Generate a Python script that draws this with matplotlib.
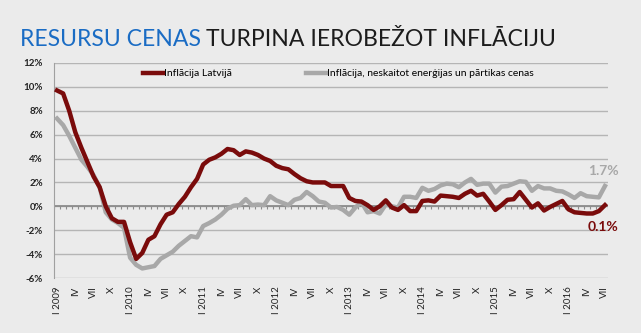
import matplotlib
matplotlib.use("Agg")
import matplotlib.pyplot as plt
import numpy as np

plt.rcParams['font.family'] = ['Lato', 'DejaVu Sans']

years = [2009, 2010, 2011, 2012, 2013, 2014, 2015, 2016]
quarter_labels = ["I", "IV", "VII", "X"]

inflation_lv = [
    9.7, 9.45, 8.0, 6.2, 4.9, 3.7, 2.5, 1.6, 0.0, -1.0, -1.3, -1.3,
    -3.0, -4.4, -3.9, -2.8, -2.5, -1.5, -0.7, -0.5, 0.2, 0.8, 1.6, 2.3,
    3.5, 3.9, 4.1, 4.4, 4.8, 4.7, 4.3, 4.6, 4.5, 4.3, 4.0, 3.8,
    3.4, 3.2, 3.1, 2.7, 2.35, 2.1, 2.0, 2.0, 2.0, 1.7, 1.7, 1.7,
    0.7, 0.45, 0.4, 0.1, -0.3, 0.0, 0.5, -0.1, -0.3, 0.1, -0.4, -0.4,
    0.45, 0.5, 0.4, 0.9, 0.85, 0.8, 0.7, 1.05, 1.3, 0.9, 1.05, 0.4,
    -0.3, 0.1, 0.55, 0.6, 1.2, 0.55, -0.1, 0.25, -0.35, -0.05, 0.2, 0.45,
    -0.25, -0.5, -0.55, -0.6, -0.6, -0.4, 0.1,
]
inflation_core = [
    7.35, 6.8, 5.9, 4.9, 3.9, 3.3, 2.6, 1.6, -0.5, -1.1, -1.4, -1.8,
    -4.3, -4.9, -5.2, -5.1, -5.0, -4.4, -4.1, -3.8, -3.3, -2.9, -2.5, -2.6,
    -1.65, -1.4, -1.1, -0.7, -0.2, 0.05, 0.1, 0.6, 0.1, 0.15, 0.1, 0.85,
    0.5, 0.3, 0.1, 0.55, 0.7, 1.2, 0.85, 0.4, 0.3, -0.1, -0.05, -0.3,
    -0.7, -0.1, 0.35, -0.5, -0.4, -0.6, 0.15, 0.0, -0.1, 0.8, 0.8, 0.7,
    1.55, 1.3, 1.45, 1.75, 1.9, 1.85, 1.6, 2.0, 2.3, 1.8, 1.9, 1.9,
    1.15, 1.65, 1.7, 1.9, 2.1, 2.05, 1.3, 1.7, 1.5, 1.5, 1.3, 1.25,
    1.0, 0.7, 1.1, 0.85, 0.8, 0.75, 1.7,
]
label_lv = "Inflācija Latvijā"
label_core = "Inflācija, neskaitot enerģijas un pārtikas cenas"
last_lv_text = "0.1%"
last_core_text = "1.7%"
y_ticks = [-6, -4, -2, 0, 2, 4, 6, 8, 10, 12]

n = len(inflation_lv)
x = np.arange(n)
tick_pos = list(range(0, n, 3))
tick_txt = []
for p in tick_pos:
    q = quarter_labels[(p % 12) // 3]
    tick_txt.append(f"{q} {years[p // 12]}" if p % 12 == 0 else q)

RED = "#7a0b0b"
GRAY = "#a8a8a8"
BG = "#ebebeb"

fig = plt.figure(figsize=(6.41, 3.33), dpi=100, facecolor=BG)
ax = fig.add_axes([54/641, 1-278/333, (608-54)/641, (278-63)/333])
ax.set_facecolor(BG)

ax.set_xlim(-0.5, n - 0.5)
ax.set_ylim(-6, 12)
ax.set_yticks(y_ticks)
ax.set_yticklabels([f"{t}%" for t in y_ticks], fontsize=7, fontweight='bold', color="#222222")
ax.yaxis.grid(True, color="#b5b5b5", lw=1)
ax.set_axisbelow(True)
ax.tick_params(axis='y', length=0, pad=8)
for s in ['top', 'right', 'bottom']:
    ax.spines[s].set_visible(False)
ax.spines['left'].set_color("#a0a0a0")

ax.set_xticks(tick_pos)
ax.set_xticklabels(tick_txt, rotation=90, fontsize=7, color="#222222", va='top', ha='center')
ax.tick_params(axis='x', length=0, pad=6)

# zero line with month tick marks
ax.axhline(0, color="#8c8c8c", lw=1.3, zorder=2)
ax.vlines(np.arange(n + 1) - 0.5, -0.25, 0, color="#8c8c8c", lw=0.8, zorder=2)

l_core, = ax.plot(x, inflation_core, color=GRAY, lw=3.2, label=label_core, zorder=3, solid_joinstyle='round')
l_lv, = ax.plot(x, inflation_lv, color=RED, lw=3.2, label=label_lv, zorder=4, solid_joinstyle='round')

leg_kw = dict(loc='upper left', frameon=False, fontsize=7.5, handlelength=1.9,
              handletextpad=0.15, borderpad=0, borderaxespad=0)
leg1 = ax.legend([l_lv], [label_lv], bbox_to_anchor=((143-54)/554, (278-69)/215), **leg_kw)
ax.add_artist(leg1)
leg2 = ax.legend([l_core], [label_core], bbox_to_anchor=((306-54)/554, (278-69)/215), **leg_kw)

ax.text(n - 1 - 0.3, 2.95, last_core_text, color=GRAY, fontsize=10, fontweight='bold',
        ha='center', va='center', clip_on=False)
ax.text(n - 1 - 0.3, -1.75, last_lv_text, color=RED, fontsize=10, fontweight='bold',
        ha='center', va='center', clip_on=False)

# title
t1 = fig.text(20/641, 1-46/333, "RESURSU CENAS", color="#1a6cc4", fontsize=16.6, va='baseline')
fig.canvas.draw()
r = fig.canvas.get_renderer()
bb = t1.get_window_extent(r)
t2 = fig.text((bb.x1 + 5)/641, 1-46/333, "TURPINA IEROBEŽOT INFLĀCIJU", color="#1c1c1c", fontsize=16.6, va='baseline')

fig.savefig("out.png", dpi=100, facecolor=BG)
